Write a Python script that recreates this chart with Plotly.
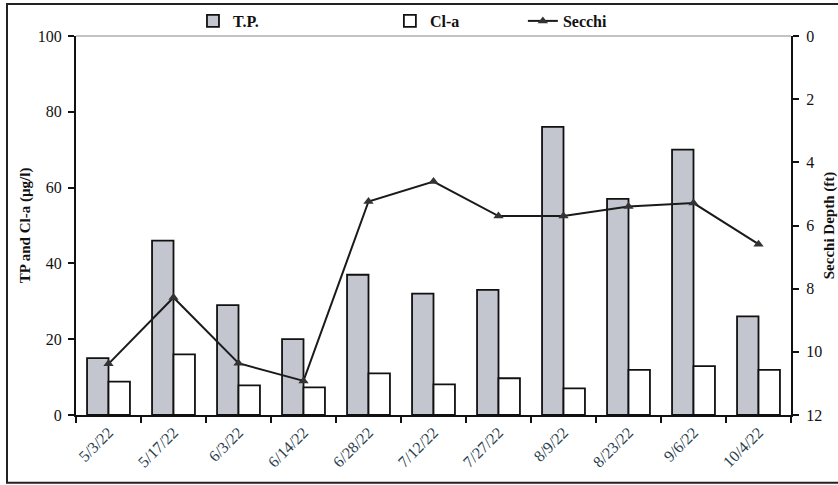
import plotly.graph_objects as go

dates = ["5/3/22", "5/17/22", "6/3/22", "6/14/22", "6/28/22", "7/12/22",
         "7/27/22", "8/9/22", "8/23/22", "9/6/22", "10/4/22"]
tp = [15, 46, 29, 20, 37, 32, 33, 76, 57, 70, 26]
cla = [8.8, 16, 7.8, 7.3, 11, 8.1, 9.7, 7.0, 11.9, 12.9, 11.9]
secchi = [10.38, 8.28, 10.36, 10.92, 5.24, 4.61, 5.70, 5.70, 5.40, 5.29, 6.59]

serif = "Liberation Serif, Times New Roman, serif"

fig = go.Figure()
fig.add_trace(go.Bar(
    x=dates, y=tp, name="<b>T.P.</b>", legend="legend",
    marker=dict(color="#c3c6ce", line=dict(color="#111111", width=1.8)),
))
fig.add_trace(go.Bar(
    x=dates, y=cla, name="<b>Cl-a</b>", legend="legend2",
    marker=dict(color="#ffffff", line=dict(color="#111111", width=1.8)),
))
fig.add_trace(go.Scatter(
    x=dates, y=secchi, name="<b>Secchi</b>", yaxis="y2", legend="legend3",
    mode="lines+markers",
    line=dict(color="#1a1a1a", width=2),
    marker=dict(symbol="triangle-up", size=9, color="#333333"),
))

legfont = dict(family=serif, size=16, color="#111111")
legcommon = dict(orientation="h", yanchor="middle", xanchor="left",
                 bgcolor="rgba(0,0,0,0)", font=legfont, borderwidth=0)

fig.update_layout(
    width=838, height=485,
    margin=dict(l=76, r=47, t=36, b=70, autoexpand=False),
    paper_bgcolor="white", plot_bgcolor="white",
    showlegend=True,
    barmode="group", bargap=0.34, bargroupgap=0,
    font=dict(family=serif, color="#111111"),
    legend=dict(x=0.1636, y=1.0396, **legcommon),
    legend2=dict(x=0.439, y=1.0396, **legcommon),
    legend3=dict(x=0.625, y=1.0396, **legcommon),
    xaxis=dict(
        type="category", range=[-0.5, len(dates) - 0.5],
        tickson="boundaries", ticks="outside", ticklen=6,
        tickcolor="#111111", tickwidth=1.5, automargin=False,
        showline=True, linecolor="#111111", linewidth=2,
        showgrid=False, tickangle=-45,
        tickfont=dict(family=serif, size=16, color="#2a3e4e"),
    ),
    yaxis=dict(
        range=[0, 100], dtick=20, ticks="outside", ticklen=6,
        tickcolor="#111111", tickwidth=1.5, automargin=False,
        showline=True, linecolor="#111111", linewidth=2,
        showgrid=False, zeroline=False, ticklabelstandoff=3,
        tickfont=dict(family=serif, size=16, color="#111111"),
        title=dict(text="<b>TP and Cl-a (µg/l)</b>", standoff=4,
                   font=dict(family=serif, size=15, color="#111111")),
    ),
    yaxis2=dict(
        overlaying="y", side="right", range=[12, 0], dtick=2,
        ticks="outside", ticklen=6, tickcolor="#111111", tickwidth=1.5,
        automargin=False,
        showline=True, linecolor="#111111", linewidth=2,
        showgrid=False, zeroline=False, ticklabelstandoff=4,
        tickfont=dict(family=serif, size=16, color="#111111"),
        title=dict(text="<b>Secchi Depth (ft)</b>", standoff=8,
                   font=dict(family=serif, size=15, color="#111111")),
    ),
    shapes=[
        dict(type="line", xref="paper", yref="paper", x0=0, x1=1, y0=1, y1=1,
             line=dict(color="#888888", width=1)),
        dict(type="rect", xref="paper", yref="paper",
             x0=-0.0965, x1=1.0755, y0=-0.179, y1=1.0844,
             line=dict(color="#222222", width=2), fillcolor="rgba(0,0,0,0)",
             layer="below"),
    ],
)

fig.write_html(
    "out.html",
    config={"displayModeBar": False},
    post_script="document.body.style.margin='0px';document.body.style.overflow='hidden';",
)
